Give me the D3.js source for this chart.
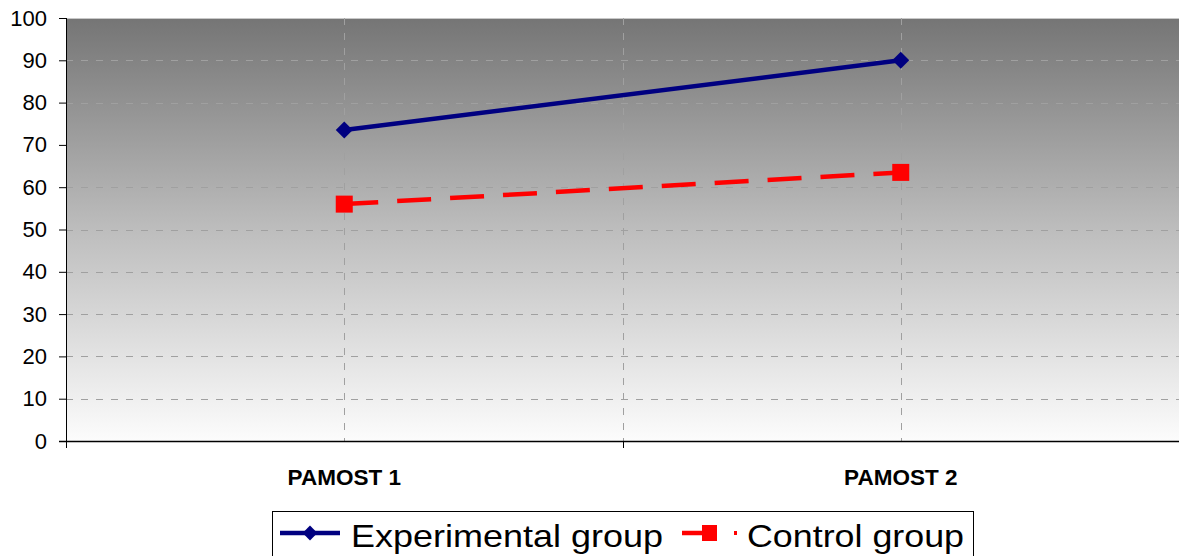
<!DOCTYPE html>
<html>
<head>
<meta charset="utf-8">
<script src="https://cdn.jsdelivr.net/npm/d3@7"></script>
<style>
  html, body { margin: 0; padding: 0; background: #fff; }
  svg { display: block; font-family: Arial, "Liberation Sans", sans-serif; }
</style>
</head>
<body>
<svg id="chart" width="1179" height="556"></svg>
<script>
// Test scores for the two groups across the two measurements
const categories = ["PAMOST 1", "PAMOST 2"];
const experimental = [73.5, 90];
const control = [56, 63.5];
const yTicks = [0, 10, 20, 30, 40, 50, 60, 70, 80, 90, 100];
const seriesNames = ["Experimental group", "Control group"];

const svg = d3.select("#chart");
const W = 1179, H = 556;
const m = { left: 66, right: 0, top: 18, bottom: 115 };
const plotW = W - m.left - m.right;
const plotH = H - m.top - m.bottom;
const FONT = "Arial, 'Liberation Sans', sans-serif";

const x = d3.scaleBand().domain(categories).range([0, plotW]).padding(0);
const y = d3.scaleLinear().domain([0, 100]).range([plotH, 0]);

const defs = svg.append("defs");
const grad = defs.append("linearGradient")
  .attr("id", "plotBg").attr("x1", 0).attr("y1", 0).attr("x2", 0).attr("y2", 1);
grad.append("stop").attr("offset", "0%").attr("stop-color", "#757575");
grad.append("stop").attr("offset", "50%").attr("stop-color", "#bdbdbd");
grad.append("stop").attr("offset", "100%").attr("stop-color", "#fcfcfc");

const g = svg.append("g").attr("transform", `translate(${m.left},${m.top})`);

// Plot area background and frame
g.append("rect").attr("width", plotW).attr("height", plotH).attr("fill", "url(#plotBg)");
g.append("line").attr("x1", 0).attr("x2", plotW).attr("y1", 0.5).attr("y2", 0.5)
  .attr("stroke", "#c8c8c8").attr("stroke-width", 1);

// Horizontal gridlines
g.append("g").selectAll("line").data(yTicks.filter(d => d > 0 && d < 100)).join("line")
  .attr("x1", 0).attr("x2", plotW)
  .attr("y1", d => Math.round(y(d)) + 0.5).attr("y2", d => Math.round(y(d)) + 0.5)
  .attr("stroke", "#a0a0a0").attr("stroke-width", 1).attr("stroke-dasharray", "7,8");

// Vertical gridlines at category centres and the boundary between them
const vLines = categories.map(c => x(c) + x.bandwidth() / 2).concat([x(categories[1])]);
g.append("g").selectAll("line").data(vLines).join("line")
  .attr("x1", d => Math.round(d) + 0.5).attr("x2", d => Math.round(d) + 0.5)
  .attr("y1", 0).attr("y2", plotH)
  .attr("stroke", "#a0a0a0").attr("stroke-width", 1).attr("stroke-dasharray", "7,8");

// Y axis
const yAxis = g.append("g").call(d3.axisLeft(y).tickValues(yTicks).tickSize(7).tickPadding(12));
yAxis.attr("font-size", null).attr("font-family", null);
yAxis.select(".domain").attr("stroke", "#000").attr("d", `M0.5,0V${plotH + 7}`);
yAxis.selectAll(".tick line").attr("stroke", "#000");
yAxis.selectAll("text").style("font-size", "22px").attr("fill", "#000")
  .style("font-family", FONT);

// X axis
const xAxis = g.append("g").attr("transform", `translate(0,${plotH})`);
xAxis.append("line").attr("x1", -7).attr("x2", plotW).attr("y1", 0.5).attr("y2", 0.5)
  .attr("stroke", "#000").attr("stroke-width", 1.5);
const xBounds = [0, x(categories[1]), plotW];
xAxis.selectAll(".xt").data(xBounds).join("line").attr("class", "xt")
  .attr("x1", d => Math.round(d) + 0.5).attr("x2", d => Math.round(d) + 0.5)
  .attr("y1", 0).attr("y2", 7).attr("stroke", "#000");
xAxis.selectAll(".xl").data(categories).join("text").attr("class", "xl")
  .attr("x", d => x(d) + x.bandwidth() / 2).attr("y", 44)
  .attr("text-anchor", "middle").style("font-size", "22.5px").attr("font-weight", "bold")
  .style("font-family", FONT).attr("fill", "#000").text(d => d);

const cx = d => x(d) + x.bandwidth() / 2;
const line = d3.line().x((d, i) => cx(categories[i])).y(d => y(d));

// Control group: red dashed line with square markers
g.append("path").datum(control).attr("d", line).attr("fill", "none")
  .attr("stroke", "#ff0000").attr("stroke-width", 4.5).attr("stroke-dasharray", "34,19");
g.selectAll(".sq").data(control).join("rect").attr("class", "sq")
  .attr("x", (d, i) => cx(categories[i]) - 8.5).attr("y", d => y(d) - 8.5)
  .attr("width", 17).attr("height", 17).attr("fill", "#ff0000");

// Experimental group: navy solid line with diamond markers
g.append("path").datum(experimental).attr("d", line).attr("fill", "none")
  .attr("stroke", "#000080").attr("stroke-width", 4.5);
g.selectAll(".dm").data(experimental).join("path").attr("class", "dm")
  .attr("d", d3.symbol().type(d3.symbolSquare).size(144)())
  .attr("transform", (d, i) => `translate(${cx(categories[i])},${y(d)}) rotate(45)`)
  .attr("fill", "#000080");

// Legend
const lg = svg.append("g").attr("transform", "translate(272,511)");
lg.append("rect").attr("x", 0.5).attr("y", 0.5).attr("width", 701).attr("height", 60)
  .attr("fill", "#fff").attr("stroke", "#000").attr("stroke-width", 1);
const ly = 22;
lg.append("line").attr("x1", 8).attr("x2", 68).attr("y1", ly).attr("y2", ly)
  .attr("stroke", "#000080").attr("stroke-width", 4.5);
lg.append("path").attr("d", d3.symbol().type(d3.symbolSquare).size(110)())
  .attr("transform", `translate(38,${ly}) rotate(45)`).attr("fill", "#000080");
lg.append("text").attr("x", 79).attr("y", 36).style("font-size", "32px")
  .style("font-family", FONT).attr("fill", "#000")
  .attr("textLength", 312).attr("lengthAdjust", "spacingAndGlyphs")
  .text(seriesNames[0]);
lg.append("line").attr("x1", 410).attr("x2", 431).attr("y1", ly).attr("y2", ly)
  .attr("stroke", "#ff0000").attr("stroke-width", 4.5);
lg.append("rect").attr("x", 430).attr("y", ly - 8).attr("width", 15).attr("height", 16)
  .attr("fill", "#ff0000");
lg.append("rect").attr("x", 462).attr("y", ly - 2).attr("width", 3).attr("height", 4)
  .attr("fill", "#ff0000");
lg.append("text").attr("x", 475).attr("y", 36).style("font-size", "32px")
  .style("font-family", FONT).attr("fill", "#000")
  .attr("textLength", 217).attr("lengthAdjust", "spacingAndGlyphs")
  .text(seriesNames[1]);
</script>
</body>
</html>
